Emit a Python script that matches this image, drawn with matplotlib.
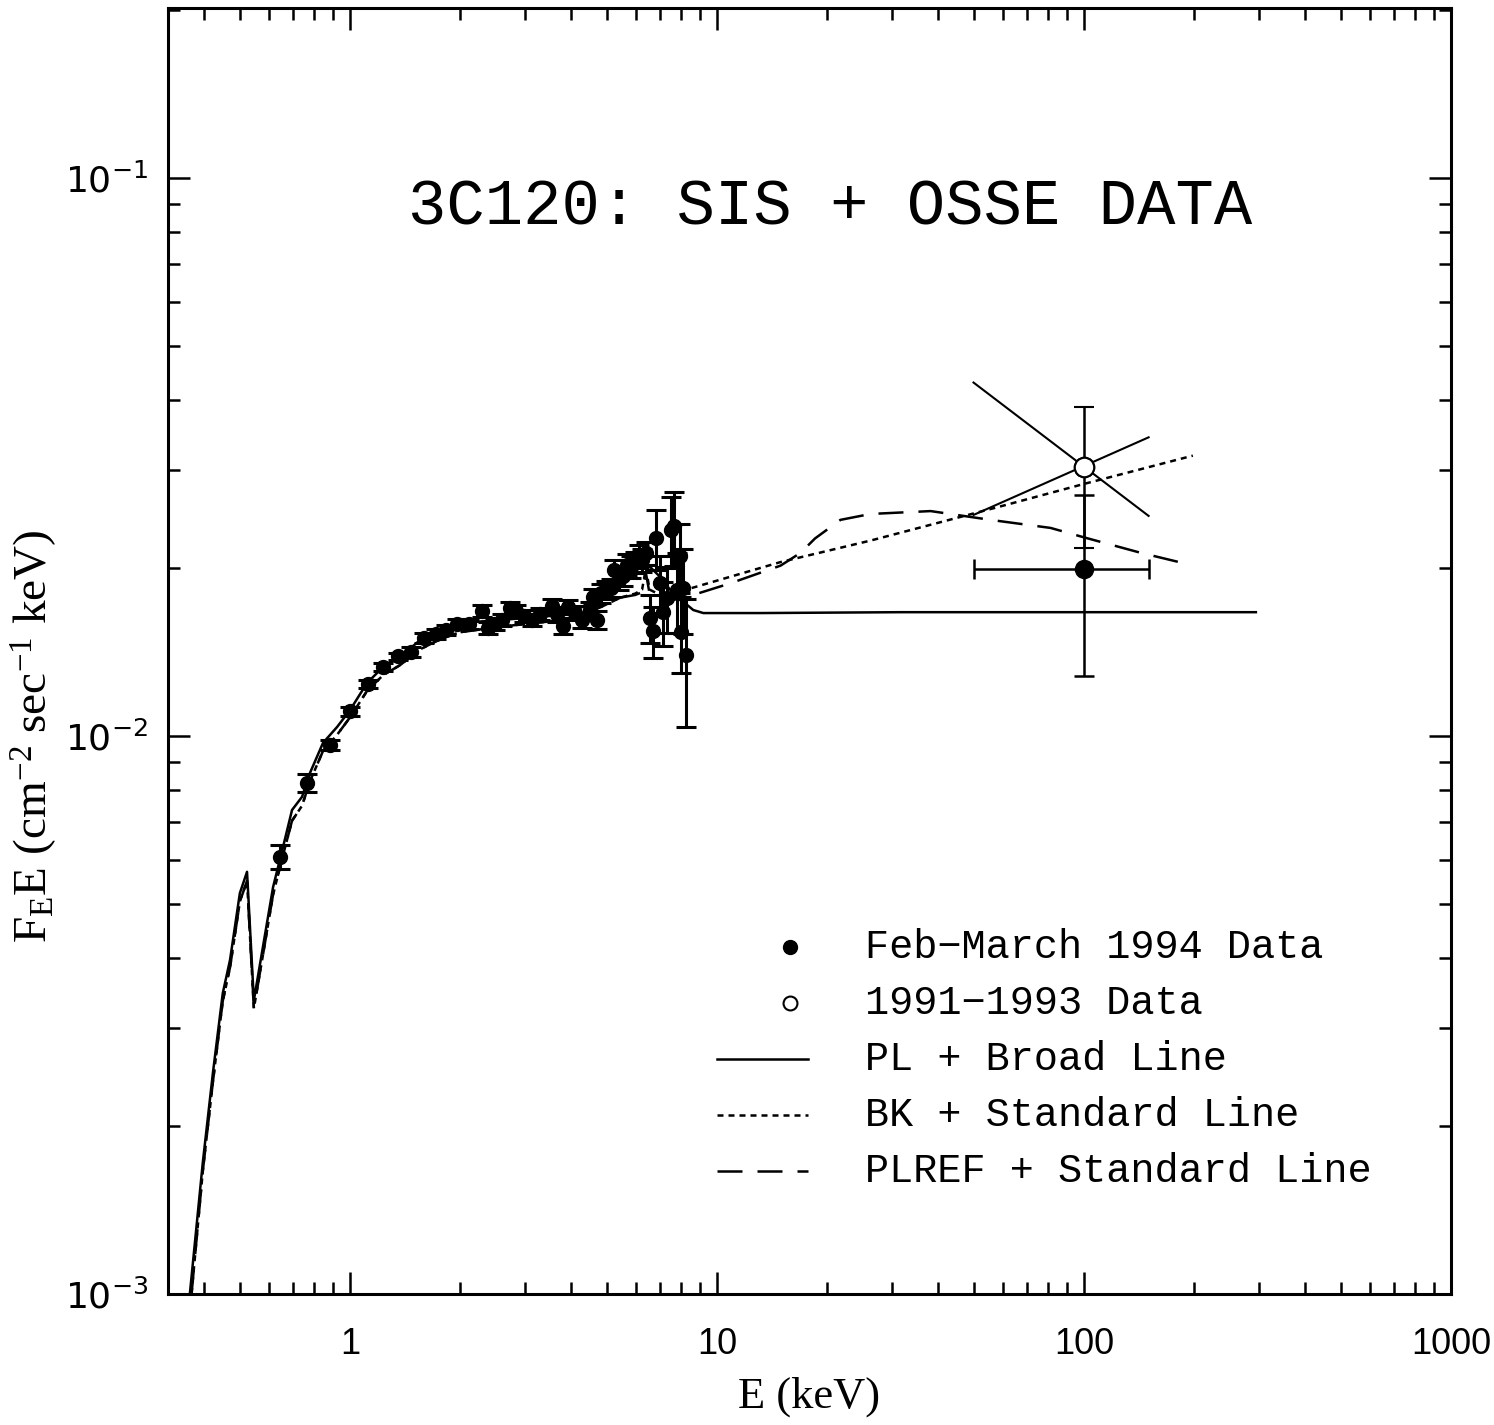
import numpy as np
import matplotlib
matplotlib.use("Agg")
import matplotlib.pyplot as plt

# ASCA SIS data, Feb-March 1994
sis_e = [0.644, 0.763, 0.882, 1.0, 1.12, 1.23, 1.352, 1.467, 1.591, 1.716,
         1.827, 1.958, 2.111, 2.291, 2.378, 2.485, 2.597, 2.731, 2.836, 2.982,
         3.136, 3.297, 3.555, 3.668, 3.810, 3.932, 4.108, 4.293, 4.513, 4.599,
         4.716, 4.836, 4.99, 5.15, 5.248, 5.415, 5.553, 5.693, 5.838, 5.987,
         6.139, 6.257, 6.416, 6.578, 6.705, 6.832, 7.006, 7.139, 7.32, 7.506,
         7.648, 7.793, 7.943, 7.99, 8.09, 8.249]
sis_f = [0.00607, 0.00824, 0.00964, 0.01108, 0.01240, 0.01329, 0.01391, 0.01415, 0.01498, 0.01523,
         0.01549, 0.01588, 0.01588, 0.01675, 0.01561, 0.01588, 0.01614, 0.01696, 0.01675, 0.01641,
         0.01614, 0.01654, 0.01710, 0.01654, 0.01575, 0.01703, 0.01661, 0.01614, 0.01682, 0.01775,
         0.01614, 0.01804, 0.01827, 0.01842, 0.01984, 0.01904, 0.01935, 0.02025, 0.02008, 0.02050,
         0.02102, 0.02068, 0.02128, 0.01627, 0.01542, 0.02263, 0.01880, 0.01667, 0.01767, 0.02339,
         0.02377, 0.01827, 0.02102, 0.01538, 0.01842, 0.01397]
sis_err = [0.0003, 0.0003, 0.0002, 0.0002, 0.0002, 0.0002, 0.0002, 0.0003, 0.0003, 0.0003,
           0.0003, 0.0003, 0.0003, 0.0004, 0.0004, 0.0004, 0.0004, 0.0004, 0.0004, 0.0004,
           0.0004, 0.0004, 0.0005, 0.0005, 0.0005, 0.0005, 0.0005, 0.0005, 0.0006, 0.0006,
           0.0006, 0.0007, 0.0007, 0.0007, 0.0008, 0.0008, 0.0008, 0.0009, 0.0009, 0.0009,
           0.0010, 0.0010, 0.0010, 0.0016, 0.0016, 0.0028, 0.0022, 0.0022, 0.0024, 0.0034,
           0.0036, 0.0030, 0.0030, 0.0024, 0.0032, 0.0036]

# OSSE points
osse94_e, osse94_f, osse94_ferr = 100.0, 0.0199, 0.0071
osse94_elo, osse94_ehi = 50.0, 150.0
osse91_e, osse91_f, osse91_ferr = 100.0, 0.0303, 0.0086
bow1_e, bow1_f = [50.0, 150.0], [0.0430, 0.0248]
bow2_e, bow2_f = [50.0, 150.0], [0.0249, 0.0343]

# PL + Broad Line model
pl_e = [0.366, 0.397, 0.423, 0.450, 0.471, 0.501, 0.524, 0.547, 0.579, 0.617,
        0.657, 0.695, 0.740, 0.778, 0.844, 0.922, 1.0, 1.113, 1.230, 1.369,
        1.552, 1.793, 1.995, 2.566, 3.512, 4.239, 4.806, 5.449, 5.987, 6.375,
        6.578, 7.006, 7.459, 7.943, 8.299, 8.616, 9.177, 13.1, 31.6, 111.0, 294.0]
pl_f = [0.00100, 0.00172, 0.00249, 0.00346, 0.00397, 0.00523, 0.00571, 0.00336, 0.00419, 0.00536,
        0.00633, 0.00737, 0.00778, 0.00859, 0.00972, 0.01038, 0.01113, 0.01245, 0.01329, 0.01385,
        0.01486, 0.01561, 0.01594, 0.01614, 0.01641, 0.01696, 0.01767, 0.01888, 0.02000, 0.02033,
        0.02008, 0.01927, 0.01827, 0.01752, 0.01717, 0.01682, 0.01661, 0.01661, 0.01667, 0.01667, 0.01667]

# BK + Standard Line model
bk_e = [0.370, 0.397, 0.423, 0.450, 0.471, 0.501, 0.524, 0.547, 0.579, 0.617,
        0.657, 0.695, 0.740, 0.778, 0.844, 0.922, 1.0, 1.113, 1.230, 1.369,
        1.552, 1.793, 1.995, 2.566, 3.512, 4.239, 4.806, 5.449, 5.987, 6.25,
        6.4, 6.55, 7.0, 7.5, 8.25, 14.9, 26.2, 59.3, 100.0, 198.0]
bk_f = [0.00100, 0.00166, 0.00240, 0.00335, 0.00385, 0.00505, 0.00550, 0.00325, 0.00405, 0.00520,
        0.00612, 0.00705, 0.00750, 0.00830, 0.00940, 0.01005, 0.01080, 0.01205, 0.01285, 0.01340,
        0.01430, 0.01500, 0.01535, 0.01570, 0.01605, 0.01650, 0.01700, 0.01770, 0.01800, 0.01830,
        0.02000, 0.01830, 0.01790, 0.01800, 0.01830, 0.02050, 0.02240, 0.02580, 0.02830, 0.03180]

# PLREF + Standard Line model
plref_e = [0.370, 0.397, 0.423, 0.450, 0.471, 0.501, 0.524, 0.547, 0.579, 0.617,
           0.657, 0.695, 0.740, 0.778, 0.844, 0.922, 1.0, 1.113, 1.230, 1.369,
           1.552, 1.793, 1.995, 2.566, 3.512, 4.239, 4.806, 5.449, 5.987, 6.25,
           6.4, 6.55, 7.0, 7.5, 8.25, 10.9, 14.9, 16.9, 18.5, 21.7, 26.2, 38.2,
           55.6, 81.1, 100.0, 142.7, 193.0]
plref_f = [0.00100, 0.00166, 0.00240, 0.00335, 0.00385, 0.00505, 0.00550, 0.00325, 0.00405, 0.00520,
           0.00612, 0.00705, 0.00750, 0.00830, 0.00940, 0.01005, 0.01080, 0.01205, 0.01285, 0.01340,
           0.01430, 0.01500, 0.01535, 0.01570, 0.01605, 0.01650, 0.01700, 0.01770, 0.01790, 0.01810,
           0.01960, 0.01800, 0.01760, 0.01750, 0.01774, 0.01879, 0.02020, 0.02130, 0.02260, 0.02440,
           0.02500, 0.02530, 0.02440, 0.02360, 0.02270, 0.02130, 0.02030]

legend_labels = ["Feb\u2212March 1994 Data", "1991\u22121993 Data", "PL + Broad Line",
                 "BK + Standard Line", "PLREF + Standard Line"]

mono = ["Liberation Mono", "DejaVu Sans Mono"]
narrow = ["Liberation Sans Narrow", "Liberation Sans", "DejaVu Sans"]
serif = ["Liberation Serif", "DejaVu Serif"]

plt.rcParams["mathtext.fontset"] = "custom"
plt.rcParams["mathtext.rm"] = "Liberation Serif"
plt.rcParams["mathtext.default"] = "regular"

fig = plt.figure(figsize=(14.94, 14.25), dpi=100)
ax = fig.add_axes([0.1124, 0.0919, 0.8588, 0.9025])
ax.set_xscale("log")
ax.set_yscale("log")
ax.set_xlim(0.319, 1000)
ax.set_ylim(1e-3, 0.2017)

lw = 1.8
ax.plot(pl_e, pl_f, color="black", lw=lw, ls="-")
ax.plot(bk_e, bk_f, color="black", lw=lw, ls=(0, (2.4, 2.0)))
ax.plot(plref_e, plref_f, color="black", lw=lw, ls=(0, (10, 6)))

ax.errorbar(sis_e, sis_f, yerr=sis_err, fmt="o", color="black", ms=10,
            elinewidth=2.2, capsize=7, capthick=2.2)

ax.errorbar([osse94_e], [osse94_f], yerr=[osse94_ferr],
            xerr=[[osse94_e - osse94_elo], [osse94_ehi - osse94_e]],
            fmt="o", color="black", ms=13, elinewidth=1.8, capsize=7, capthick=1.8)
ax.errorbar([osse91_e], [osse91_f], yerr=[osse91_ferr], fmt="o", color="black",
            mfc="white", mec="black", mew=1.5, ms=14, elinewidth=1.8, capsize=7, capthick=1.8)
ax.plot(bow1_e, bow1_f, color="black", lw=1.5)
ax.plot(bow2_e, bow2_f, color="black", lw=1.5)
ax.plot([osse91_e], [osse91_f], "o", mfc="none", mec="black", mew=1.5, ms=14)

ax.text(0.516, 0.845, "3C120: SIS + OSSE DATA", transform=ax.transAxes,
        ha="center", va="center", fontsize=46, family=mono)

# legend drawn by hand
rows = [0.2698, 0.2263, 0.1827, 0.1392, 0.0956]
tx, mx, l0, l1 = 0.5433, 0.4848, 0.4279, 0.4988
ax.plot([mx], [rows[0]], "o", color="black", ms=10, transform=ax.transAxes)
ax.plot([mx], [rows[1]], "o", mfc="white", mec="black", mew=1.5, ms=10, transform=ax.transAxes)
ax.plot([l0, l1], [rows[2]] * 2, color="black", lw=lw, transform=ax.transAxes)
ax.plot([l0, l1], [rows[3]] * 2, color="black", lw=lw, ls=(0, (2.4, 2.0)), transform=ax.transAxes)
ax.plot([l0, l1], [rows[4]] * 2, color="black", lw=lw, ls=(0, (10, 6)), transform=ax.transAxes)
for r, lab in zip(rows, legend_labels):
    ax.text(tx, r, lab, transform=ax.transAxes, ha="left", va="center",
            fontsize=29, family=mono)

ax.set_xticks([1, 10, 100, 1000])
ax.set_xticklabels(["1", "10", "100", "1000"], family=narrow, fontsize=26)
ax.set_yticks([1e-3, 1e-2, 1e-1])
ax.set_yticklabels([r"$10^{-3}$", r"$10^{-2}$", r"$10^{-1}$"], fontsize=26)
ax.tick_params(which="both", direction="in", top=True, right=True, width=1.8)
ax.tick_params(which="major", length=16)
ax.tick_params(which="minor", length=8.5)
ax.tick_params(axis="x", which="major", pad=24)
ax.tick_params(axis="y", which="major", pad=14)
for s in ax.spines.values():
    s.set_linewidth(2.2)

ax.set_xlabel("E (keV)", family=serif, fontsize=32)
ax.xaxis.set_label_coords(0.5, -0.064)
ax.set_ylabel(r"F$_{\rm E}$E (cm$^{-2}$ sec$^{-1}$ keV)", family=serif, fontsize=34)
ax.yaxis.set_label_coords(-0.085, 0.434)

fig.savefig("out.png", dpi=100)
